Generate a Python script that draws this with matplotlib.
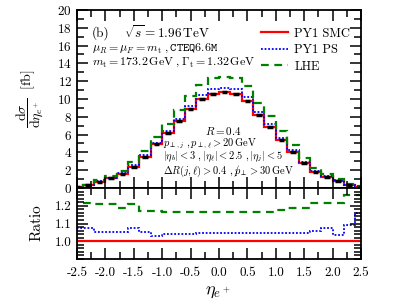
import numpy as np
import matplotlib
matplotlib.use("Agg")
import matplotlib.pyplot as plt
from matplotlib.ticker import MultipleLocator, FormatStrFormatter

plt.rcParams['font.family'] = 'serif'
plt.rcParams['font.serif'] = ['cmr10']
plt.rcParams['mathtext.fontset'] = 'cm'
plt.rcParams['axes.formatter.use_mathtext'] = True
plt.rcParams['axes.unicode_minus'] = False

# bin edges in eta_e+ (0.2 wide, clipped by the axis at +-2.5)
bin_edges = np.arange(-2.6, 2.61, 0.2)
bin_centers = 0.5 * (bin_edges[:-1] + bin_edges[1:])

# PY1 SMC, dsigma/deta [fb]
smc = [0.15, 0.30, 0.70, 1.09, 1.57, 2.40, 3.50, 4.90, 6.20, 7.50, 8.90, 9.96, 10.60,
       10.75, 10.60, 9.80, 8.20, 6.90, 5.40, 4.10, 2.80, 1.83, 1.27, 0.82, 0.34, 0.15]

# ratios to PY1 SMC
ratio_ps = [1.076, 1.076, 1.050, 1.050, 1.050, 1.076, 1.055, 1.030, 1.040, 1.040, 1.040, 1.047, 1.047,
            1.048, 1.048, 1.045, 1.048, 1.045, 1.045, 1.045, 1.045, 1.057, 1.076, 1.034, 1.090, 1.160]
ratio_lhe = [1.220, 1.215, 1.210, 1.210, 1.185, 1.210, 1.172, 1.170, 1.167, 1.165, 1.165, 1.163, 1.163,
             1.165, 1.165, 1.165, 1.165, 1.167, 1.177, 1.190, 1.190, 1.215, 1.215, 1.215, 1.260, 1.260]

smc = np.array(smc)
ps = smc * np.array(ratio_ps)
lhe = smc * np.array(ratio_lhe)

fig = plt.figure(figsize=(4.07, 3.08), dpi=100)
ax1 = fig.add_axes([0.189, 0.3896, 0.698, 0.578])
ax2 = fig.add_axes([0.189, 0.159, 0.698, 0.2306], sharex=ax1)

red, blue, green = '#ff0000', '#0000ff', '#008000'

ax1.stairs(smc, bin_edges, color=red, lw=1.6, label='PY1 SMC')
ax1.stairs(ps, bin_edges, color=blue, lw=1.3, ls=(0, (1, 1)), label='PY1 PS')
ax1.stairs(lhe, bin_edges, color=green, lw=1.6, ls=(0, (3.5, 2.5)), label='LHE')
ax1.hlines(smc, bin_centers - 0.05, bin_centers + 0.05, color='k', lw=2.5, zorder=5)

ax2.axhline(1.0, color=red, lw=1.6)
ax2.stairs(ratio_ps, bin_edges, color=blue, lw=1.3, ls=(0, (1, 1)))
ax2.stairs(ratio_lhe, bin_edges, color=green, lw=1.6, ls=(0, (3.5, 2.5)))

ax1.set_xlim(-2.5, 2.5)
ax1.set_ylim(0, 20)
ax2.set_ylim(0.9, 1.3)

for ax in (ax1, ax2):
    for s in ax.spines.values():
        s.set_linewidth(1.3)
    ax.tick_params(which='both', direction='in', top=True, right=True, width=1.1)
    ax.tick_params(which='major', length=8, labelsize=9.5)
    ax.tick_params(which='minor', length=5)
    ax.xaxis.set_major_locator(MultipleLocator(0.5))
    ax.xaxis.set_minor_locator(MultipleLocator(0.25))

ax1.yaxis.set_major_locator(MultipleLocator(2))
ax1.yaxis.set_minor_locator(MultipleLocator(1))
ax1.tick_params(labelbottom=False)
ax2.yaxis.set_major_locator(MultipleLocator(0.1))
ax2.yaxis.set_minor_locator(MultipleLocator(0.02))
ax2.yaxis.set_major_formatter(FormatStrFormatter('%.1f'))
ax2.set_yticks([1.0, 1.1, 1.2])
ax2.xaxis.set_major_formatter(FormatStrFormatter('%.1f'))
ax2.tick_params(axis='x', pad=6)

# annotations
ax1.text(0.053, 0.871, '(b)', transform=ax1.transAxes, fontsize=9.5, va='center')
ax1.text(0.165, 0.871, r'$\sqrt{s} = 1.96\,\mathrm{TeV}$', transform=ax1.transAxes,
         fontsize=9.5, va='center')
setup_txt = (r'$\mu_R = \mu_F = m_{\mathrm{t}}\ ,\mathtt{CTEQ6.6M}$' + '\n'
             + r'$m_{\mathrm{t}} = 173.2\,\mathrm{GeV}\ ,\Gamma_{\mathrm{t}} = 1.32\,\mathrm{GeV}$')
ax1.text(0.053, 0.745, setup_txt, transform=ax1.transAxes, fontsize=8.6, va='center',
         linespacing=1.05)
ax1.text(0.451, 0.322, r'$R = 0.4$', transform=ax1.transAxes, fontsize=8, va='center')
ax1.text(0.303, 0.248, r'$p_{\perp,j}\ ,p_{\perp,\ell} > 20\,\mathrm{GeV}$',
         transform=ax1.transAxes, fontsize=7.5, va='center')
ax1.text(0.303, 0.174, r'$|\eta_b| < 3\ ,|\eta_\ell| < 2.5\ ,|\eta_j| < 5$',
         transform=ax1.transAxes, fontsize=7.5, va='center')
ax1.text(0.303, 0.095, r'$\Delta R(j,\ell) > 0.4\ ,/\!\!\!p_{\perp} > 30\,\mathrm{GeV}$',
         transform=ax1.transAxes, fontsize=7.5, va='center')

ax1.legend(loc='upper right', bbox_to_anchor=(0.98, 0.93), frameon=False, fontsize=9,
           handlelength=2.2, handletextpad=0.5, labelspacing=0.35, borderaxespad=0)

fig.text(30 / 407, 1 - 99 / 308,
         r'$\dfrac{\mathrm{d}\sigma}{\mathrm{d}\eta_{e^+}}\ \ [\mathrm{fb}]$',
         rotation=90, ha='center', va='center', fontsize=10)
fig.text(37 / 407, 1 - 223 / 308, 'Ratio', rotation=90, ha='center', va='center', fontsize=11)
fig.text(218 / 407, 1 - 292 / 308, r'$\eta_{e^+}$', ha='center', va='center', fontsize=13)

plt.savefig('out.png', dpi=100)
